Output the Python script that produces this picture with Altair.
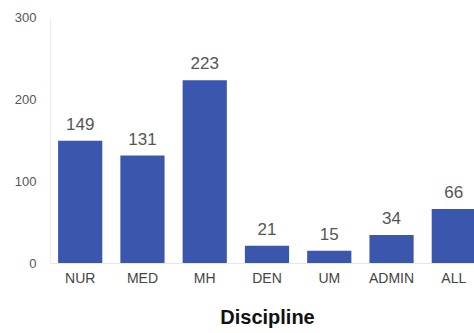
import altair as alt
import pandas as pd

disciplines = ["NUR", "MED", "MH", "DEN", "UM", "ADMIN", "ALL"]
counts = [149, 131, 223, 21, 15, 34, 66]

df = pd.DataFrame({"Discipline": disciplines, "Count": counts})

FONT = "Liberation Sans"

base = alt.Chart(df).encode(
    x=alt.X(
        "Discipline:N",
        sort=disciplines,
        scale=alt.Scale(paddingInner=0.29, paddingOuter=0.13, range=[0, 434]),
        axis=alt.Axis(
            title="Discipline",
            labelAngle=0,
            labelFontSize=14,
            labelColor="#444444",
            labelFont=FONT,
            labelPadding=8,
            ticks=False,
            domainColor="#e6e6e6",
            titleFont=FONT,
            titleFontSize=20,
            titleFontWeight="bold",
            titleColor="#111111",
            titlePadding=22,
        ),
    ),
    y=alt.Y(
        "Count:Q",
        scale=alt.Scale(domain=[0, 300]),
        axis=alt.Axis(
            title=None,
            values=[0, 100, 200, 300],
            grid=False,
            ticks=False,
            labelFontSize=13,
            labelColor="#555555",
            labelFont=FONT,
            labelPadding=14,
            domainColor="#eeeeee",
        ),
    ),
)

bars = base.mark_bar(color="#3b56ad")
labels = base.mark_text(
    dy=-11, baseline="alphabetic", fontSize=17, color="#555555", font=FONT
).encode(text="Count:Q")

chart = (
    (bars + labels)
    .properties(
        width=424,
        height=246,
        autosize=alt.AutoSizeParams(type="none"),
        padding={"left": 50, "top": 17, "right": 0, "bottom": 70},
    )
    .configure_view(stroke=None)
)

chart.save("out.html", embed_options={"renderer": "svg", "actions": False})
